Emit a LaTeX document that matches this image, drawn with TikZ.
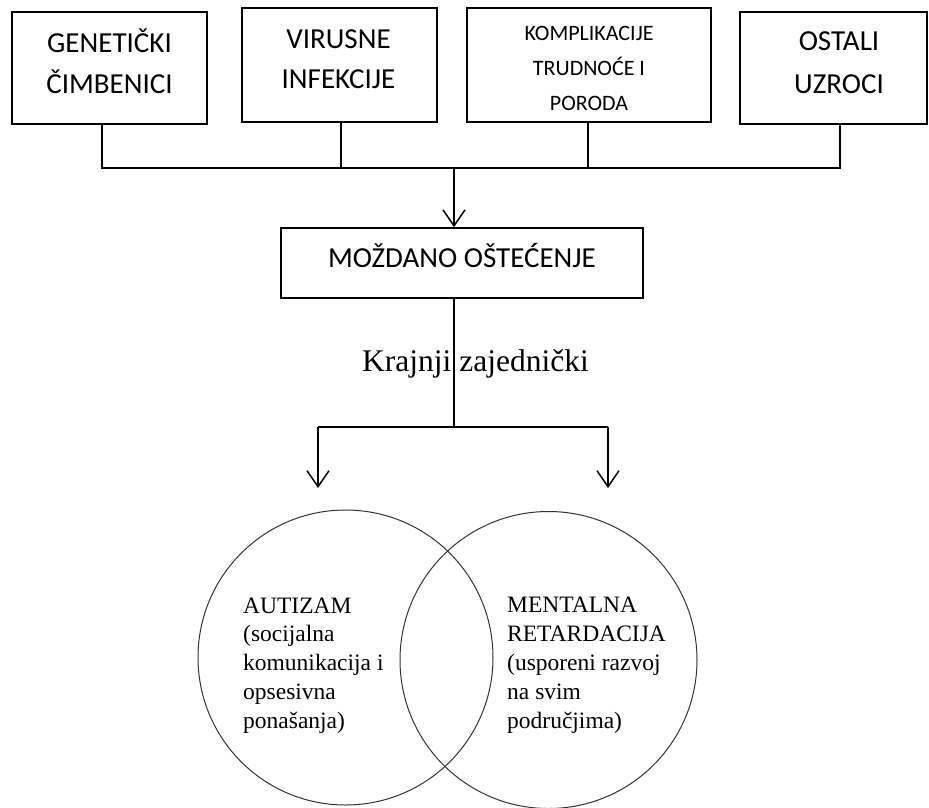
\documentclass[tikz,border=0pt]{standalone}
\usepackage{fontspec}
\setmainfont{Liberation Serif}
\newfontfamily\calfont{Carlito}
\usetikzlibrary{arrows.meta}
\newcommand\ctrlines[2]{\vtop{\baselineskip=#1\relax\halign{\hfil##\hfil\cr#2\crcr}}}
\newcommand\leftlines[2]{\vtop{\baselineskip=#1\relax\halign{##\hfil\cr#2\crcr}}}
\begin{document}
\begin{tikzpicture}[x=1pt,y=-1pt,
  box/.style={draw, line width=1.6pt, rectangle, inner sep=0pt},
  boxtext/.style={anchor=base, inner sep=0pt, font=\calfont\fontsize{29}{35}\selectfont},
  conn/.style={line width=1.5pt},
  arr/.style={conn, -{Straight Barb[length=16pt,width=22pt]}},
  ring/.style={draw, circle, line width=1pt, black!80, inner sep=0pt},
  ringtext/.style={anchor=base west, inner sep=0pt, font=\fontsize{23.5}{28}\selectfont}]
\useasboundingbox (0,0) rectangle (929,807);
% top boxes
\node[box, minimum width=195pt, minimum height=112pt] (g1) at (109.5,68) {};
\node[boxtext] (g1t) at (109.5,52) {\ctrlines{41pt}{GENETIČKI\cr ČIMBENICI}};
\node[box, minimum width=195pt, minimum height=114pt] (g2) at (339.5,65) {};
\node[boxtext] (g2t) at (338.5,48) {\ctrlines{40pt}{VIRUSNE\cr INFEKCIJE}};
\node[box, minimum width=244pt, minimum height=114pt] (g3) at (589,65) {};
\node[boxtext, font=\calfont\fontsize{22}{26}\selectfont] (g3t) at (589,40) {\ctrlines{35pt}{KOMPLIKACIJE\cr TRUDNOĆE I\cr PORODA}};
\node[box, minimum width=187pt, minimum height=112pt] (g4) at (833.5,68) {};
\node[boxtext] (g4t) at (839,50) {\ctrlines{43pt}{OSTALI\cr UZROCI}};
% bus
\coordinate (d1) at (102,168);
\coordinate (d2) at (341,168);
\coordinate (d3) at (588,168);
\coordinate (d4) at (840,168);
\coordinate (hub) at (454,168);
\draw[conn] (g1.south -| d1) -- (d1) -- (d4) -- (g4.south -| d4);
\draw[conn] (g2.south -| d2) -- (d2);
\draw[conn] (g3.south -| d3) -- (d3);
% middle box
\node[box, minimum width=362pt, minimum height=70pt] (moz) at (462,263) {};
\node[boxtext] (mozt) at (462,267) {MOŽDANO OŠTEĆENJE};
\draw[arr] (hub) -- (moz.north -| hub);
% split
\coordinate (split) at (454,427);
\coordinate (sl) at (318,427);
\coordinate (sr) at (608,427);
\coordinate (el) at (318,488);
\coordinate (er) at (608,488);
\draw[conn] (moz.south -| split) -- (split);
\draw[conn] (sl) -- (sr);
\draw[arr] (sl) -- (el);
\draw[arr] (sr) -- (er);
\node[anchor=base west, inner sep=0pt, font=\fontsize{31.5}{36}\selectfont] (kz) at (362,371) {Krajnji zajednički};
% circles
\node[ring, minimum size=295pt] (aut) at (345.5,657.5) {};
\node[ring, minimum size=297pt] (men) at (548.5,660) {};
\node[ringtext] (autt) at (243,613) {\leftlines{28.75pt}{AUTIZAM\cr (socijalna\cr komunikacija i\cr opsesivna\cr ponašanja)}};
\node[ringtext] (ment) at (507,612) {\leftlines{29pt}{MENTALNA\cr RETARDACIJA\cr (usporeni razvoj\cr na svim\cr područjima)}};
\end{tikzpicture}
\end{document}
